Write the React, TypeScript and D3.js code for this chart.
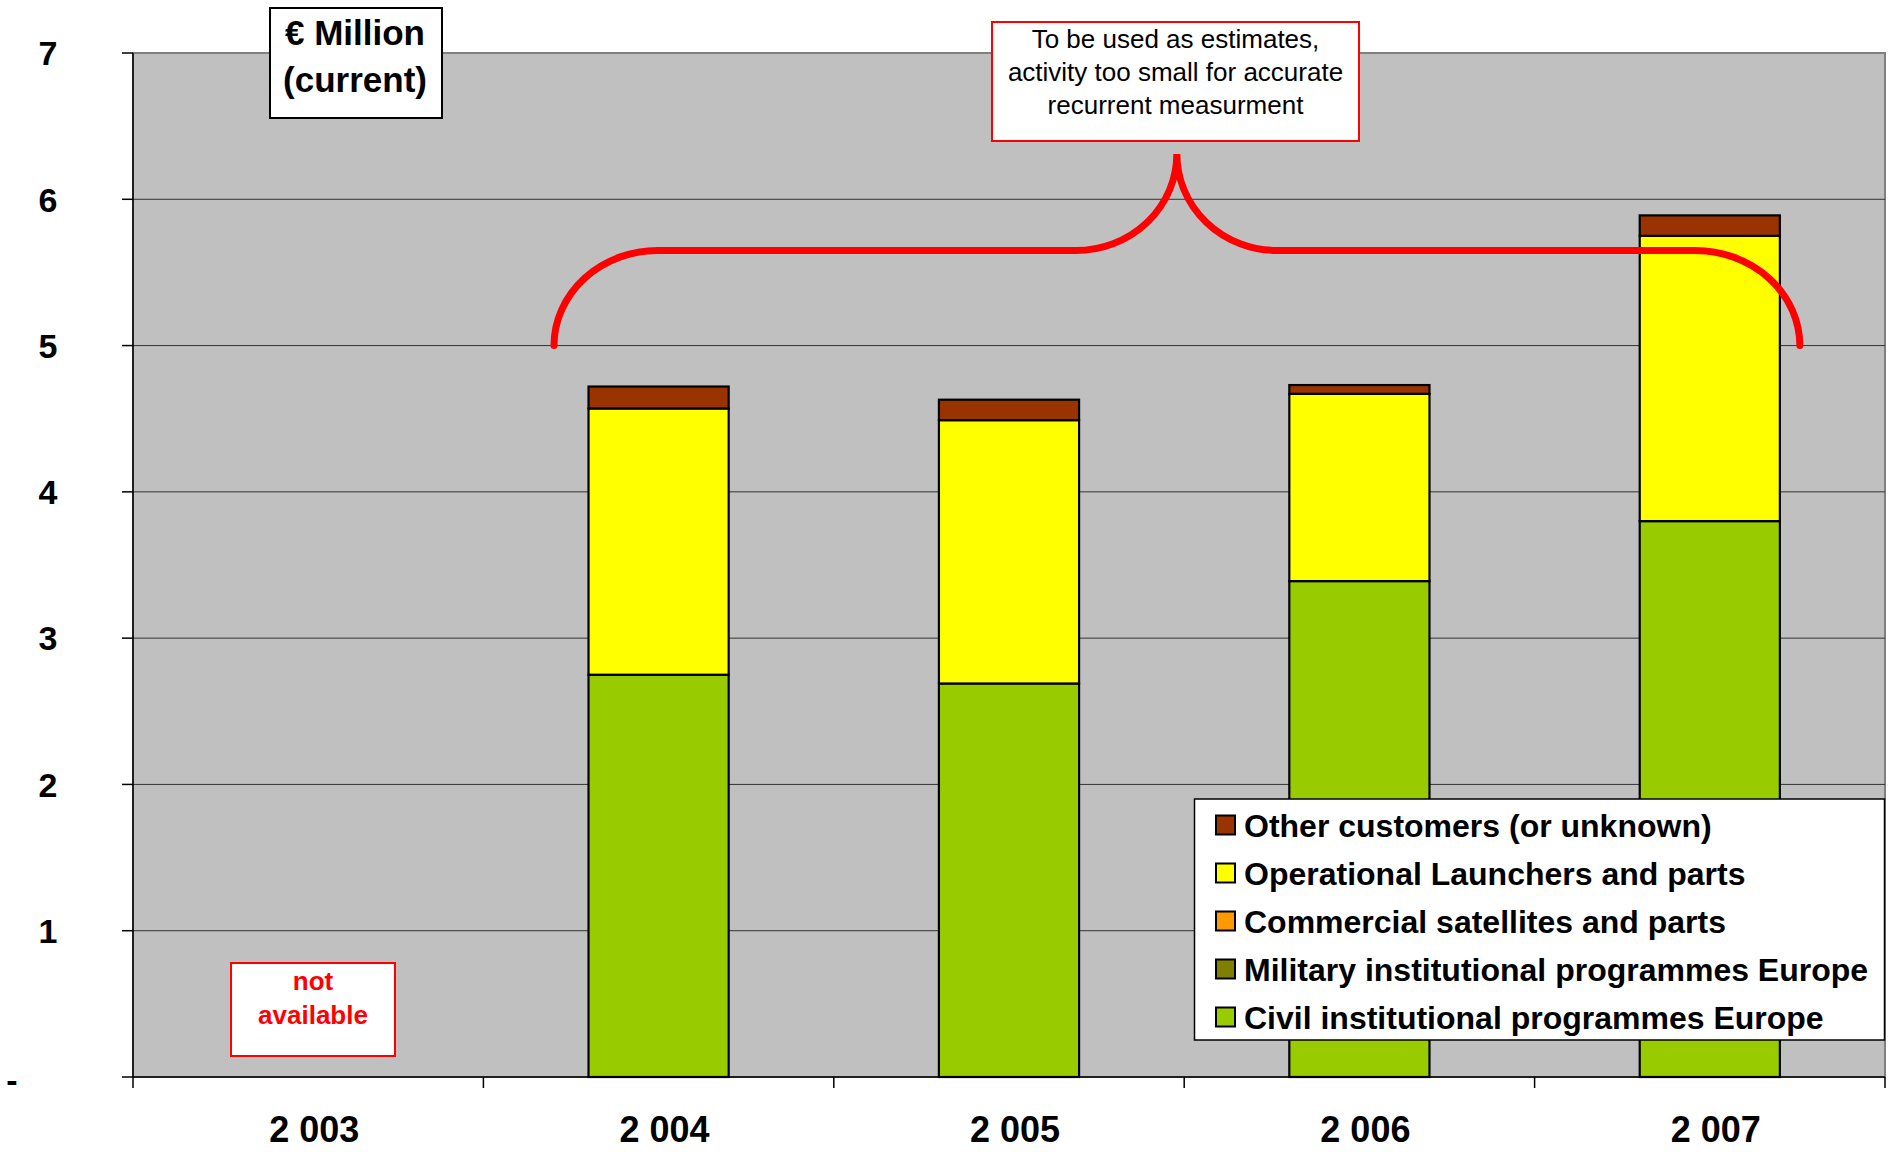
import React from "react";
import * as d3 from "d3";

const years = ["2 003", "2 004", "2 005", "2 006", "2 007"];
const civil = [0, 2.75, 2.69, 3.39, 3.8];
const military = [0, 0, 0, 0, 0];
const commercial = [0, 0, 0, 0, 0];
const launchers = [0, 1.82, 1.8, 1.28, 1.95];
const other = [0, 0.15, 0.14, 0.06, 0.14];
const yTicks = [0, 1, 2, 3, 4, 5, 6, 7];

const seriesKeys = ["civil", "military", "commercial", "launchers", "other"];
const seriesNames: Record<string, string> = {
  other: "Other customers (or unknown)",
  launchers: "Operational Launchers and parts",
  commercial: "Commercial satellites and parts",
  military: "Military institutional programmes Europe",
  civil: "Civil institutional programmes Europe",
};
const seriesColors: Record<string, string> = {
  civil: "#99CC00",
  military: "#808000",
  commercial: "#FF9900",
  launchers: "#FFFF00",
  other: "#993300",
};
const legendOrder = ["other", "launchers", "commercial", "military", "civil"];

const FONT = "'Liberation Sans', Arial, Helvetica, sans-serif";

export default function App() {
  const W = 1892, H = 1152;
  const left = 133, right = 1885, top = 53, bottom = 1077;

  const x = d3.scaleBand<string>().domain(years).range([left, right]).paddingInner(0.6).paddingOuter(0.3);
  const xu = d3.scaleLinear().domain([0, years.length]).range([left, right]);
  const y = d3.scaleLinear().domain([0, 7]).range([bottom, top]);

  const table = years.map((yr, i) => ({
    year: yr,
    civil: civil[i],
    military: military[i],
    commercial: commercial[i],
    launchers: launchers[i],
    other: other[i],
  }));
  const stacked = d3.stack<any>().keys(seriesKeys)(table);

  // brace geometry in data units
  const bY0 = y(5), bY1 = y(5.65), bPeak = y(6.31);
  const bx = [1.2015, 1.498, 2.691, 2.979, 3.265, 4.458, 4.757].map((v) => xu(v));
  const ry1 = bY0 - bY1, ry2 = bY1 - bPeak;
  const bracePath =
    `M ${bx[0]} ${bY0} A ${bx[1] - bx[0]} ${ry1} 0 0 1 ${bx[1]} ${bY1} ` +
    `L ${bx[2]} ${bY1} A ${bx[3] - bx[2]} ${ry2} 0 0 0 ${bx[3]} ${bPeak} ` +
    `A ${bx[4] - bx[3]} ${ry2} 0 0 0 ${bx[4]} ${bY1} ` +
    `L ${bx[5]} ${bY1} A ${bx[6] - bx[5]} ${ry1} 0 0 1 ${bx[6]} ${bY0}`;

  return (
    <svg width={W} height={H} style={{ position: "absolute", left: 0, top: 0, background: "#fff" }} fontFamily={FONT}>
      {/* plot area */}
      <rect x={left} y={top} width={right - left} height={bottom - top} fill="#C0C0C0" stroke="#808080" strokeWidth={2} />
      {/* gridlines */}
      {yTicks.slice(1, -1).map((t) => (
        <line key={"g" + t} x1={left} x2={right} y1={y(t)} y2={y(t)} stroke="#333" strokeWidth={1} />
      ))}
      {/* y axis */}
      <line x1={left} x2={left} y1={top} y2={bottom} stroke="#000" strokeWidth={1.5} />
      {yTicks.map((t) => (
        <line key={"yt" + t} x1={left - 11} x2={left} y1={y(t)} y2={y(t)} stroke="#000" strokeWidth={1.5} />
      ))}
      {yTicks.map((t) => (
        <text
          key={"yl" + t}
          x={t === 0 ? 12 : 48}
          y={y(t) + (t === 0 ? 3 : 0)}
          dy="0.36em"
          textAnchor="middle"
          fontWeight="bold"
          fontSize={34}
        >
          {t === 0 ? "-" : String(t)}
        </text>
      ))}
      {/* x axis */}
      <line x1={left} x2={right} y1={bottom} y2={bottom} stroke="#000" strokeWidth={1.5} />
      {d3.range(years.length + 1).map((i) => (
        <line key={"xt" + i} x1={xu(i)} x2={xu(i)} y1={bottom} y2={bottom + 11} stroke="#000" strokeWidth={1.5} />
      ))}
      {years.map((yr) => (
        <text
          key={"xl" + yr}
          x={(x(yr) as number) + x.bandwidth() / 2 + 6}
          y={1142}
          textAnchor="middle"
          fontWeight="bold"
          fontSize={36}
        >
          {yr}
        </text>
      ))}
      {/* bars */}
      {stacked.map((s) =>
        s.map((d, i) =>
          d[1] - d[0] > 0 ? (
            <rect
              key={s.key + i}
              x={x(years[i]) as number}
              y={y(d[1])}
              width={x.bandwidth()}
              height={y(d[0]) - y(d[1])}
              fill={seriesColors[s.key]}
              stroke="#000"
              strokeWidth={2.2}
            />
          ) : null
        )
      )}
      {/* brace */}
      <path d={bracePath} fill="none" stroke="#FF0000" strokeWidth={7} strokeLinecap="round" />
      {/* annotation box */}
      <rect x={992} y={22} width={367} height={119} fill="#fff" stroke="#FF0000" strokeWidth={2} />
      {["To be used as estimates,", "activity too small for accurate", "recurrent measurment"].map((l, i) => (
        <text key={"an" + i} x={1175.5} y={48 + i * 33} textAnchor="middle" fontSize={26} fill="#000">
          {l}
        </text>
      ))}
      {/* unit box */}
      <rect x={270} y={8} width={172} height={110} fill="#fff" stroke="#000" strokeWidth={2} />
      <text x={355} y={45} textAnchor="middle" fontWeight="bold" fontSize={35}>€ Million</text>
      <text x={355} y={92} textAnchor="middle" fontWeight="bold" fontSize={35}>(current)</text>
      {/* not available box */}
      <rect x={231} y={963} width={164} height={93} fill="#fff" stroke="#FF0000" strokeWidth={2} />
      <text x={313} y={990} textAnchor="middle" fontWeight="bold" fontSize={26} fill="#FF0000">not</text>
      <text x={313} y={1024} textAnchor="middle" fontWeight="bold" fontSize={26} fill="#FF0000">available</text>
      {/* legend */}
      <rect x={1194.5} y={799} width={690} height={241} fill="#fff" stroke="#000" strokeWidth={1.5} />
      {legendOrder.map((k, i) => {
        const cy = 825 + i * 48;
        return (
          <g key={"lg" + k}>
            <rect x={1216} y={cy - 9.5} width={19} height={19} fill={seriesColors[k]} stroke="#000" strokeWidth={2} />
            <text x={1244} y={cy} dy="0.36em" fontWeight="bold" fontSize={32}>
              {seriesNames[k]}
            </text>
          </g>
        );
      })}
    </svg>
  );
}
